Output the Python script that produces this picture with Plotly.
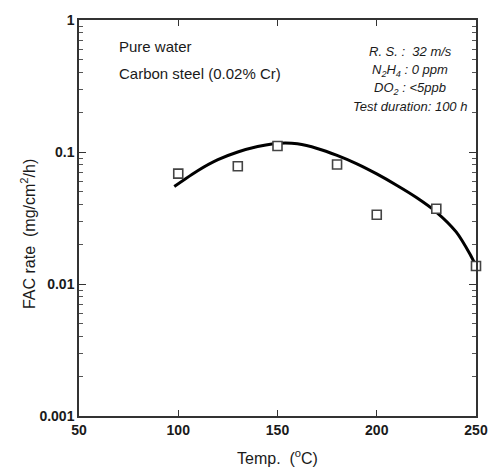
import plotly.graph_objects as go

# Measured data points
temp_pts = [100, 130, 150, 180, 200, 230, 250]
fac_pts = [0.0686, 0.078, 0.111, 0.0804, 0.0335, 0.0372, 0.0137]

# Fitted curve
temp_fit = [98, 110, 120, 130, 140, 148, 154, 160, 170, 180, 190, 200, 210, 220, 230, 240, 247, 250]
fac_fit = [0.0548, 0.0725, 0.0875, 0.100, 0.110, 0.1155, 0.117, 0.1153, 0.1064, 0.0942, 0.0813,
           0.0682, 0.056, 0.0452, 0.0351, 0.0248, 0.0168, 0.0137]

y_major = [0.001, 0.01, 0.1, 1]
y_major_labels = ["0.001", "0.01", "0.1", "1"]
y_minor = [m * d for d in (0.001, 0.01, 0.1) for m in range(2, 10)]
x_ticks = [50, 100, 150, 200, 250]

FONT = "Liberation Sans, Arial, sans-serif"
INK = "#1a1a1a"

fig = go.Figure()
fig.add_trace(go.Scatter(
    x=temp_fit, y=fac_fit, mode="lines",
    line=dict(color="black", width=3, shape="spline", smoothing=0.7),
    showlegend=False, hoverinfo="skip"))
fig.add_trace(go.Scatter(
    x=temp_pts, y=fac_pts, mode="markers", cliponaxis=False,
    marker=dict(symbol="square", size=9, color="white",
                line=dict(color="#444", width=1.6)),
    showlegend=False))

fig.update_layout(
    width=500, height=474,
    margin=dict(l=79, r=14, t=13, b=58),
    paper_bgcolor="white", plot_bgcolor="white",
    font=dict(family=FONT, color=INK),
)
fig.update_xaxes(
    range=[50, 250], tickvals=x_ticks, ticktext=[str(v) for v in x_ticks],
    ticks="inside", ticklen=6, tickwidth=1.3, tickcolor="#333",
    showline=True, linecolor="#333", linewidth=1.5, mirror="ticks",
    showgrid=False, zeroline=False,
    tickfont=dict(family=FONT, size=14, color=INK, weight="bold"),
)
fig.update_yaxes(
    type="log", range=[-3, 0], tickvals=y_major, ticktext=y_major_labels,
    ticks="inside", ticklen=7, tickwidth=1.3, tickcolor="#333",
    showline=True, linecolor="#333", linewidth=1.5, mirror="ticks",
    showgrid=False, zeroline=False,
    minor=dict(tickvals=y_minor, ticks="inside", ticklen=4, tickwidth=1, tickcolor="#555", showgrid=False),
    tickfont=dict(family=FONT, size=14, color=INK, weight="bold"),
)

# Axis titles
fig.add_annotation(text="Temp.  (<sup>o</sup>C)", xref="paper", yref="paper", x=0.5, y=-0.104,
                   xanchor="center", yanchor="middle", showarrow=False,
                   font=dict(family=FONT, size=16, color=INK))
fig.add_annotation(text="FAC rate  (mg/cm<sup>2</sup>/h)", xref="paper", yref="paper", x=-0.128, y=0.46,
                   xanchor="center", yanchor="middle", showarrow=False, textangle=-90,
                   font=dict(family=FONT, size=16, color=INK))

left_notes = [("Pure water", 0.933), ("Carbon steel (0.02% Cr)", 0.866)]
for txt, yy in left_notes:
    fig.add_annotation(text=txt, xref="paper", yref="paper", x=0.096, y=yy,
                       xanchor="left", yanchor="middle", showarrow=False,
                       font=dict(family=FONT, size=15, color=INK))

right_notes = [
    ("<i>R. S. :  32 m/s</i>", 0.9206),
    ("<i>N<sub>2</sub>H<sub>4</sub> : 0 ppm</i>", 0.8734),
    ("<i>DO<sub>2</sub> : &lt;5ppb</i>", 0.826),
    ("<i>Test duration: 100 h</i>", 0.7816),
]
for txt, yy in right_notes:
    fig.add_annotation(text=txt, xref="paper", yref="paper", x=0.835, y=yy,
                       xanchor="center", yanchor="middle", showarrow=False,
                       font=dict(family=FONT, size=13, color=INK))

fig.write_html("out.html")
